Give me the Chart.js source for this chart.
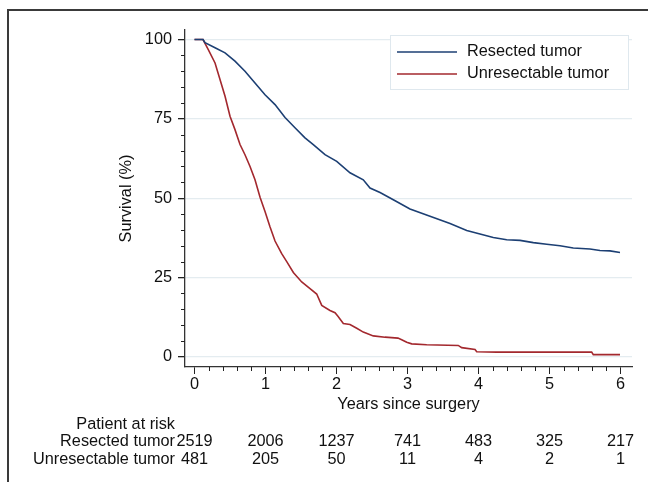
<!DOCTYPE html>
<html>
<head>
<meta charset="utf-8">
<title>Survival by resection status</title>
<script src="https://cdn.jsdelivr.net/npm/chart.js@4.4.0/dist/chart.umd.min.js"></script>
<style>
  html, body { margin: 0; padding: 0; background: #fff; }
  #wrap { position: relative; width: 648px; height: 482px; overflow: hidden; }
  #frame {
    position: absolute; left: 7px; top: 9px; width: 660px; height: 490px;
    border-left: 2px solid #3a3a3a; border-top: 2px solid #3a3a3a;
  }
  #km { position: absolute; left: 0; top: 0; }
</style>
</head>
<body>
<div id="wrap">
  <div id="frame"></div>
  <canvas id="km" width="648" height="482"></canvas>
</div>
<script>
// Kaplan-Meier estimates (years, survival %)
const resectedYears = [0, 0.12, 0.148, 0.289, 0.43, 0.57, 0.711, 0.852, 0.993, 1.134, 1.275, 1.415, 1.556,
  1.673, 1.838, 2.003, 2.19, 2.377, 2.472, 2.613, 2.8, 3.035, 3.317, 3.599, 3.834, 4.021, 4.208, 4.397,
  4.585, 4.772, 4.961, 5.148, 5.335, 5.57, 5.711, 5.852, 5.993];
const resectedSurv = [100, 100, 99, 97.4, 95.8, 93.2, 90, 86.3, 82.6, 79.5, 75.4, 72.2, 69,
  66.9, 63.7, 61.6, 58, 55.8, 53.2, 51.8, 49.5, 46.6, 44.3, 42, 39.8, 38.7, 37.6, 36.9,
  36.7, 36, 35.5, 35, 34.3, 34, 33.5, 33.4, 32.9];

const unresYears = [0, 0.12, 0.194, 0.289, 0.359, 0.43, 0.5, 0.57, 0.641, 0.711, 0.782, 0.852, 0.923,
  0.993, 1.063, 1.134, 1.228, 1.299, 1.392, 1.51, 1.627, 1.721, 1.792, 1.908, 1.979, 2.02, 2.096,
  2.19, 2.285, 2.377, 2.518, 2.683, 2.866, 2.918, 2.989, 3.059, 3.27, 3.715, 3.763, 3.951, 3.975,
  4.256, 5.594, 5.617, 5.993];
const unresSurv = [100, 100, 96.8, 92.6, 87.4, 82.1, 75.8, 71.6, 66.9, 63.7, 60, 55.8, 50.3,
  45.8, 41, 36.5, 32.5, 30, 26.6, 23.6, 21.5, 19.8, 16.2, 14.6, 13.9, 12.8, 10.5,
  10.2, 9, 7.8, 6.6, 6.2, 5.9, 5.4, 4.6, 4.1, 3.8, 3.6, 2.9, 2.3, 1.6,
  1.5, 1.5, 0.7, 0.7];

// axis ticks and the numbers-at-risk table
const xTickLabels = [0, 1, 2, 3, 4, 5, 6];
const yTickLabels = [0, 25, 50, 75, 100];
const groupNames = ["Resected tumor", "Unresectable tumor"];
const atRiskResected = [2519, 2006, 1237, 741, 483, 325, 217];
const atRiskUnres = [481, 205, 50, 11, 4, 2, 1];

const FONT = '"Liberation Sans", Arial, Helvetica, sans-serif';
const BLUE = "#1c3f73";
const RED = "#a3282e";
const INK = "#111";

Chart.defaults.font.family = FONT;
Chart.defaults.font.size = 16.3;
Chart.defaults.color = INK;

function isMajorX(v) { return xTickLabels.some(t => Math.abs(t - v) < 1e-6); }
function isMajorY(v) { return yTickLabels.some(t => Math.abs(t - v) < 1e-6); }

// short minor tick marks (every 0.2 years / every 5 %)
const minorTicks = {
  id: "minorTicks",
  afterDraw(chart) {
    const { ctx, chartArea, scales } = chart;
    ctx.save();
    ctx.strokeStyle = "#222";
    ctx.lineWidth = 1;
    scales.x.ticks.forEach(t => {
      if (isMajorX(t.value)) return;
      const px = Math.round(scales.x.getPixelForValue(t.value)) + 0.5;
      ctx.beginPath();
      ctx.moveTo(px, chartArea.bottom);
      ctx.lineTo(px, chartArea.bottom + 4);
      ctx.stroke();
    });
    scales.y.ticks.forEach(t => {
      if (isMajorY(t.value)) return;
      const py = Math.round(scales.y.getPixelForValue(t.value)) + 0.5;
      ctx.beginPath();
      ctx.moveTo(chartArea.left - 4, py);
      ctx.lineTo(chartArea.left, py);
      ctx.stroke();
    });
    ctx.restore();
  }
};

// boxed legend in the top right corner
const boxLegend = {
  id: "boxLegend",
  afterDraw(chart) {
    const { ctx } = chart;
    const x = 390, y = 35, w = 238, h = 54;
    ctx.save();
    ctx.fillStyle = "#fff";
    ctx.fillRect(x, y, w, h);
    ctx.strokeStyle = "#dfe8ee";
    ctx.lineWidth = 1;
    ctx.strokeRect(x + 0.5, y + 0.5, w, h);
    ctx.font = "16.3px " + FONT;
    ctx.textBaseline = "middle";
    ctx.textAlign = "left";
    chart.data.datasets.forEach((ds, i) => {
      const ry = y + 17 + i * 22;
      ctx.strokeStyle = ds.borderColor;
      ctx.lineWidth = 1.6;
      ctx.beginPath();
      ctx.moveTo(x + 7, ry);
      ctx.lineTo(x + 67, ry);
      ctx.stroke();
      ctx.fillStyle = INK;
      ctx.fillText(ds.label, x + 77, ry);
    });
    ctx.restore();
  }
};

// numbers at risk under the x axis
const riskTable = {
  id: "riskTable",
  afterDraw(chart) {
    const { ctx, scales } = chart;
    ctx.save();
    ctx.font = "16.3px " + FONT;
    ctx.fillStyle = INK;
    ctx.textBaseline = "middle";
    ctx.textAlign = "right";
    ctx.fillText("Patient at risk", 175, 425);
    const rows = [atRiskResected, atRiskUnres];
    rows.forEach((row, r) => {
      const ry = 442 + r * 18;
      ctx.textAlign = "right";
      ctx.fillText(groupNames[r], 175, ry);
      ctx.textAlign = "center";
      row.forEach((n, i) => {
        ctx.fillText(String(n), scales.x.getPixelForValue(xTickLabels[i]), ry);
      });
    });
    ctx.restore();
  }
};

const ctx = document.getElementById("km").getContext("2d");
new Chart(ctx, {
  type: "line",
  data: {
    datasets: [
      {
        label: groupNames[0],
        data: resectedYears.map((t, i) => ({ x: t, y: resectedSurv[i] })),
        borderColor: BLUE,
        borderWidth: 1.6,
        pointRadius: 0,
        tension: 0,
        fill: false
      },
      {
        label: groupNames[1],
        data: unresYears.map((t, i) => ({ x: t, y: unresSurv[i] })),
        borderColor: RED,
        borderWidth: 1.6,
        pointRadius: 0,
        tension: 0,
        fill: false
      }
    ]
  },
  options: {
    responsive: false,
    animation: false,
    layout: { padding: { left: 0, top: 30, right: 16, bottom: 0 } },
    plugins: { legend: { display: false }, tooltip: { enabled: false } },
    scales: {
      x: {
        type: "linear",
        min: -0.134,
        max: 6.162,
        afterFit: s => { s.height = 115; },
        afterBuildTicks: s => {
          const ticks = [];
          for (let i = 0; i <= 30; i++) ticks.push({ value: i / 5 });
          s.ticks = ticks;
        },
        ticks: {
          autoSkip: false,
          maxRotation: 0,
          padding: 1,
          callback: v => (isMajorX(v) ? String(Math.round(v)) : "")
        },
        grid: {
          drawOnChartArea: false,
          tickLength: 7,
          tickColor: c => (isMajorX(c.tick.value) ? "#222" : "rgba(0,0,0,0)")
        },
        border: { display: true, color: "#333", width: 1.3 },
        title: {
          display: true,
          text: "Years since surgery",
          color: INK,
          padding: { top: 0, bottom: 68 }
        }
      },
      y: {
        min: -3.2,
        max: 103,
        afterFit: s => { s.width = 185; },
        afterBuildTicks: s => {
          const ticks = [];
          for (let v = 0; v <= 100; v += 5) ticks.push({ value: v });
          s.ticks = ticks;
        },
        ticks: {
          autoSkip: false,
          padding: 6,
          callback: v => (isMajorY(v) ? String(v) : "")
        },
        grid: {
          color: c => (c.tick && isMajorY(c.tick.value) ? "#e4ecf0" : "rgba(0,0,0,0)"),
          lineWidth: 1.3,
          tickLength: 7,
          tickColor: c => (c.tick && isMajorY(c.tick.value) ? "#222" : "rgba(0,0,0,0)")
        },
        border: { display: true, color: "#333", width: 1.3 },
        title: {
          display: true,
          text: "Survival (%)",
          color: INK,
          padding: { top: 117, bottom: 0 }
        }
      }
    }
  },
  plugins: [minorTicks, boxLegend, riskTable]
});
</script>
</body>
</html>
